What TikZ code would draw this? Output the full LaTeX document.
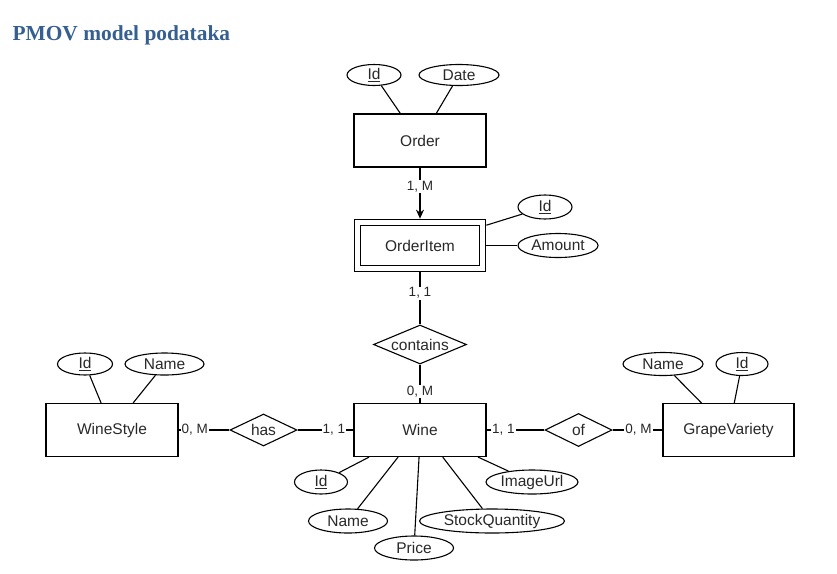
\documentclass[tikz,border=0pt]{standalone}
\usepackage{fontspec}
\setmainfont{Liberation Sans}
\newfontfamily\headfont{Liberation Serif}
\usetikzlibrary{shapes.geometric,arrows.meta}
\definecolor{headblue}{RGB}{54,95,145}
\definecolor{textgray}{RGB}{40,40,40}
\begin{document}
\begin{tikzpicture}[x=1pt, y=-1pt, line width=1.1pt,
		entity/.style={draw, minimum width=132pt, minimum height=53pt, inner sep=0pt, text=textgray, font=\fontsize{15.5}{18}\selectfont},
		attr/.style={draw, ellipse, minimum height=24pt, inner sep=0pt, text=textgray, font=\fontsize{15.5}{18}\selectfont},
		rel/.style={draw, diamond, inner sep=0pt, text=textgray, font=\fontsize{15.5}{18}\selectfont},
		card/.style={fill=white, inner sep=1pt, text=textgray, font=\fontsize{13.5}{16}\selectfont}]
		\useasboundingbox (0,0) rectangle (837,573);
		\node[anchor=base west, inner sep=0pt, text=headblue, font=\headfont\bfseries\fontsize{21.4}{25}\selectfont] (title) at (12,40) {PMOV model podataka};
		% Order
		\node[entity] (order) at (420,140.5) {Order};
		\node[attr, minimum width=54pt, minimum height=21pt] (orderid) at (374,75) {\underline{Id}};
		\node[attr, minimum width=80pt, minimum height=21pt] (orderdate) at (459,75) {Date};
		\draw (orderid) -- (order.126);
		\draw (orderdate) -- (order.59);
		% OrderItem
		\node[entity, minimum width=125pt, minimum height=46pt, double, double distance=5.5pt, outer sep=3.85pt] (item) at (420,245.5) {OrderItem};
		\node[attr, minimum width=54pt] (itemid) at (545,207) {\underline{Id}};
		\node[attr, minimum width=80pt] (amount) at (558,245.5) {Amount};
		\draw[-{Stealth[length=9pt,width=8pt]}] (order) -- node[card, pos=0.37] {1, M} (item);
		\draw (itemid) -- (item.17);
		\draw (item) -- (amount);
		% contains
		\node[rel, minimum width=93pt, minimum height=39pt, shape aspect=2.4] (contains) at (420,344.5) {contains};
		\draw (item) -- node[card, pos=0.4] {1, 1} (contains);
		% Wine
		\node[entity] (wine) at (420,430) {Wine};
		\node[attr, minimum width=53pt] (wineid) at (321,482) {\underline{Id}};
		\node[attr, minimum width=79pt] (winename) at (348,521) {Name};
		\node[attr, minimum width=79pt] (price) at (414,548) {Price};
		\node[attr, minimum width=145pt] (stock) at (492,521) {StockQuantity};
		\node[attr, minimum width=92pt] (image) at (532,482) {ImageUrl};
		\draw (contains) -- node[card, pos=0.7] {0, M} (wine);
		\draw (wineid) -- (wine.208);
		\draw (winename) -- (wine.231);
		\draw (price) -- (wine.268);
		\draw (stock) -- (wine.310);
		\draw (image) -- (wine.335);
		% WineStyle
		\node[entity] (style) at (112,430) {WineStyle};
		\node[attr, minimum width=55pt, minimum height=22pt] (styleid) at (85,364) {\underline{Id}};
		\node[attr, minimum width=79pt, minimum height=22pt] (stylename) at (164.5,364) {Name};
		\node[rel, minimum width=67pt, minimum height=32pt, shape aspect=2.1] (has) at (263.5,430) {has};
		\draw (styleid) -- (style.112);
		\draw (stylename) -- (style.52);
		\draw (style) -- node[card, pos=0.32] {0, M} (has);
		\draw (has) -- node[card, pos=0.65] {1, 1} (wine);
		% GrapeVariety
		\node[entity, minimum width=131pt] (grape) at (728.5,430) {GrapeVariety};
		\node[attr, minimum width=80pt, minimum height=23pt] (grapename) at (663,364) {Name};
		\node[attr, minimum width=52pt, minimum height=23pt] (grapeid) at (742,364) {\underline{Id}};
		\node[rel, minimum width=67pt, minimum height=33pt, shape aspect=2.1] (of) at (578.5,430) {of};
		\draw (wine) -- node[card, pos=0.29] {1, 1} (of);
		\draw (of) -- node[card, pos=0.52] {0, M} (grape);
		\draw (grapename) -- (grape.135);
		\draw (grapeid) -- (grape.78);
\end{tikzpicture}
\end{document}
